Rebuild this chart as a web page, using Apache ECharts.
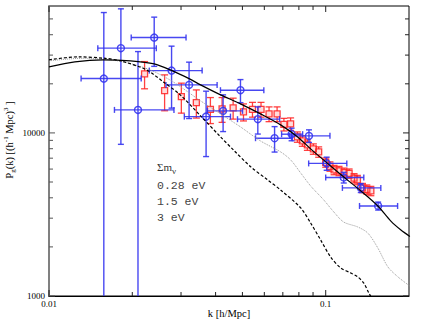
<!DOCTYPE html>
<html lang="en">
<head>
<meta charset="UTF-8">
<title>Galaxy power spectrum</title>
<script src="https://cdn.jsdelivr.net/npm/echarts@6/dist/echarts.min.js"></script>
<style>
  html, body { margin: 0; padding: 0; background: #fff; }
  #chart { width: 423px; height: 327px; }
</style>
</head>
<body>
<div id="chart"></div>
<script>
// axis ranges
var kMin = 0.01, kMax = 0.2;
var pMin = 1000, pMax = 60000;

// tick values (drawn inside on all four sides)
var kMajorTicks = [0.01, 0.1];
var kMinorTicks = [0.02, 0.03, 0.04, 0.05, 0.06, 0.07, 0.08, 0.09];
var pMajorTicks = [1000, 10000];
var pMinorTicks = [2000, 3000, 4000, 5000, 6000, 7000, 8000, 9000, 20000, 30000, 40000, 50000];

// model curves, sum of neutrino masses
var solidK = [0.0100, 0.0124, 0.0157, 0.0197, 0.0240, 0.0277, 0.0322, 0.0353, 0.0417, 0.0492, 0.0581, 0.0687, 0.0792, 0.0882, 0.1042, 0.1162, 0.1339, 0.1543, 0.1720, 0.1870, 0.2015];
var solidP = [25400, 27270, 28050, 27650, 26500, 24170, 21450, 19700, 17110, 15070, 13080, 11200, 9450, 7980, 6270, 5370, 4410, 3565, 2880, 2540, 2320];

var dottedK = [0.0100, 0.0130, 0.0160, 0.0189, 0.0232, 0.0281, 0.0353, 0.0417, 0.0492, 0.0581, 0.0687, 0.0747, 0.0812, 0.0882, 0.0984, 0.1069, 0.1162, 0.1306, 0.1420, 0.1543, 0.1677, 0.1824, 0.2015];
var dottedP = [27650, 28650, 28240, 27070, 24350, 20550, 15720, 13080, 10890, 8930, 7650, 6830, 5680, 4730, 3880, 3280, 2840, 2650, 2430, 1970, 1510, 1310, 1150];

var dashedK = [0.0100, 0.0127, 0.0160, 0.0184, 0.0225, 0.0259, 0.0298, 0.0353, 0.0417, 0.0464, 0.0535, 0.0617, 0.0687, 0.0812, 0.0882, 0.0959, 0.1042, 0.1133, 0.1232, 0.1306, 0.1373, 0.1431, 0.1468];
var dashedP = [28050, 29260, 28650, 27460, 24350, 20550, 17110, 12720, 9450, 7860, 6210, 5150, 4470, 3470, 2805, 2205, 1735, 1485, 1385, 1310, 1200, 1045, 970];

// blue data points: k, P, k range, P error
var blueK   = [0.01578, 0.01819, 0.02097, 0.0240, 0.02773, 0.03208, 0.03696, 0.04258, 0.0492, 0.05684, 0.06535, 0.07529, 0.0870, 0.1008, 0.1162, 0.1339, 0.1547];
var blueP   = [21540, 33080, 13840, 38430, 24110, 19700, 12590, 13650, 18280, 12140, 9280, 9820, 9590, 6500, 5330, 4600, 3565];
var blueErr = [33160, 24570, 17690, 12840, 9920, 7450, 5430, 3460, 2950, 2300, 1650, 870, 850, 600, 400, 290, 200];
var blueKlo = [0.01306, 0.01501, 0.01724, 0.01982, 0.02304, 0.02647, 0.03084, 0.03736, 0.04165, 0.0480, 0.05577, 0.06928, 0.07408, 0.08678, 0.1000, 0.1149, 0.1325];
var blueKhi = [0.02154, 0.02442, 0.02829, 0.03128, 0.03576, 0.04051, 0.04527, 0.05005, 0.05976, 0.06813, 0.07572, 0.08254, 0.1036, 0.1192, 0.1373, 0.1582, 0.1819];

// red data points: k, P, P error
var redK   = [0.02215, 0.02617, 0.03008, 0.03408, 0.03831, 0.04222, 0.04629, 0.05045, 0.05437, 0.05838, 0.06241, 0.06673, 0.07062, 0.07467, 0.0790, 0.08234, 0.08585, 0.09024, 0.09432, 0.1000, 0.1036, 0.1072, 0.1117, 0.1165, 0.1215, 0.1266, 0.1302, 0.1358, 0.1408, 0.1456];
var redP   = [23010, 18180, 16700, 15340, 13940, 14040, 14240, 13450, 13940, 13940, 13080, 13080, 11280, 11360, 9450, 8930, 8440, 7980, 7650, 6590, 6230, 5930, 5850, 5710, 5640, 5280, 5150, 4600, 4500, 4410];
var redErr = [4370, 4510, 3480, 3010, 2530, 2430, 2090, 1610, 1450, 1450, 1360, 1360, 1000, 1000, 690, 655, 620, 585, 560, 430, 410, 390, 385, 375, 370, 345, 340, 300, 295, 290];

var xTitle = 'k [h/Mpc]';
var legendTitle = 'Σm';
var legendNames = ['0.28 eV', '1.5 eV', '3 eV'];

var serif = 'Liberation Serif';
var mono = 'Liberation Mono';

function pairs(xs, ys) {
    return xs.map(function (x, i) { return [x, ys[i]]; });
}

var blueData = blueK.map(function (k, i) {
    return [k, blueP[i], blueKlo[i], blueKhi[i], blueP[i] - blueErr[i], blueP[i] + blueErr[i]];
});
var redData = redK.map(function (k, i) {
    return [k, redP[i], redP[i] - redErr[i], redP[i] + redErr[i]];
});

// tick data: [k, P, length, side flag]  flag 0 = k ticks, 1 = P ticks
var tickData = [];
kMajorTicks.forEach(function (v) { tickData.push([v, pMin, 6, 0]); });
kMinorTicks.forEach(function (v) { tickData.push([v, pMin, 4, 0]); });
pMajorTicks.forEach(function (v) { tickData.push([kMin, v, 6, 1]); });
pMinorTicks.forEach(function (v) { tickData.push([kMin, v, 4, 1]); });

function renderBlue(params, api) {
    var k = api.value(0), p = api.value(1);
    var c = api.coord([k, p]);
    var l = api.coord([api.value(2), p]);
    var r = api.coord([api.value(3), p]);
    var t = api.coord([k, api.value(5)]);
    var clipped = api.value(4) <= pMin;
    var b = api.coord([k, clipped ? pMin : api.value(4)]);
    var cap = 3;
    var st = { stroke: '#3434f0', lineWidth: 1.4, fill: null, opacity: 0.9 };
    var kids = [
        { type: 'line', shape: { x1: l[0], y1: c[1], x2: r[0], y2: c[1] }, style: st },
        { type: 'line', shape: { x1: l[0], y1: c[1] - cap, x2: l[0], y2: c[1] + cap }, style: st },
        { type: 'line', shape: { x1: r[0], y1: c[1] - cap, x2: r[0], y2: c[1] + cap }, style: st },
        { type: 'line', shape: { x1: c[0], y1: t[1], x2: c[0], y2: b[1] }, style: st },
        { type: 'line', shape: { x1: c[0] - cap, y1: t[1], x2: c[0] + cap, y2: t[1] }, style: st },
        { type: 'circle', shape: { cx: c[0], cy: c[1], r: 3.5 }, style: st }
    ];
    if (!clipped) {
        kids.push({ type: 'line', shape: { x1: c[0] - cap, y1: b[1], x2: c[0] + cap, y2: b[1] }, style: st });
    }
    return { type: 'group', children: kids };
}

function renderRed(params, api) {
    var k = api.value(0), p = api.value(1);
    var c = api.coord([k, p]);
    var b = api.coord([k, api.value(2)]);
    var t = api.coord([k, api.value(3)]);
    var cap = 3.5, h = 3;
    var st = { stroke: '#ff2020', lineWidth: 1.3, fill: null, opacity: 0.85 };
    return { type: 'group', children: [
        { type: 'line', shape: { x1: c[0], y1: t[1], x2: c[0], y2: c[1] - h }, style: st },
        { type: 'line', shape: { x1: c[0], y1: c[1] + h, x2: c[0], y2: b[1] }, style: st },
        { type: 'line', shape: { x1: c[0] - cap, y1: t[1], x2: c[0] + cap, y2: t[1] }, style: st },
        { type: 'line', shape: { x1: c[0] - cap, y1: b[1], x2: c[0] + cap, y2: b[1] }, style: st },
        { type: 'rect', shape: { x: c[0] - h, y: c[1] - h, width: 2 * h, height: 2 * h },
          style: { stroke: '#ff2020', lineWidth: 1.3, fill: 'rgba(255,90,90,0.25)', opacity: 0.85 } }
    ]};
}

function renderTicks(params, api) {
    var cs = params.coordSys;
    var len = api.value(2);
    var st = { stroke: '#222', lineWidth: 1 };
    if (api.value(3) === 0) {
        var px = api.coord([api.value(0), pMin])[0];
        return { type: 'group', children: [
            { type: 'line', shape: { x1: px, y1: cs.y + cs.height, x2: px, y2: cs.y + cs.height - len }, style: st },
            { type: 'line', shape: { x1: px, y1: cs.y, x2: px, y2: cs.y + len }, style: st }
        ]};
    }
    var py = api.coord([kMin, api.value(1)])[1];
    return { type: 'group', children: [
        { type: 'line', shape: { x1: cs.x, y1: py, x2: cs.x + len, y2: py }, style: { stroke: '#555', lineWidth: 1 } },
        { type: 'line', shape: { x1: cs.x + cs.width, y1: py, x2: cs.x + cs.width - len, y2: py }, style: st }
    ]};
}

function decadeLabel(v) {
    var e = Math.log10(v);
    return Math.abs(e - Math.round(e)) < 1e-6 ? String(+v.toPrecision(3)) : '';
}

var chart = echarts.init(document.getElementById('chart'), null, { renderer: 'svg' });

var option = {
    animation: false,
    backgroundColor: '#fff',
    grid: { left: 49, right: 14, top: 6, bottom: 31, show: true, borderColor: '#000', borderWidth: 1 },
    xAxis: {
        type: 'log', logBase: 10, min: kMin, max: kMax,
        axisLine: { show: true, onZero: false, lineStyle: { color: '#000', width: 1 } },
        axisTick: { show: false },
        splitLine: { show: false },
        axisLabel: { formatter: decadeLabel, fontFamily: serif, fontSize: 9, color: '#000', margin: 3 }
    },
    yAxis: {
        type: 'log', logBase: 10, min: pMin, max: pMax,
        axisLine: { show: true, onZero: false, lineStyle: { color: '#808080', width: 2 } },
        axisTick: { show: false },
        splitLine: { show: false },
        axisLabel: { formatter: decadeLabel, fontFamily: serif, fontSize: 9, color: '#000', margin: 4 }
    },
    graphic: [
        {
            type: 'text', x: 229, y: 313,
            style: { text: xTitle, fontFamily: serif, fontSize: 10.5, fontWeight: 'normal', fill: '#000',
                     align: 'center', verticalAlign: 'middle' }
        },
        {
            type: 'text', x: 9, y: 140, rotation: Math.PI / 2,
            style: {
                text: '{n|P}{sub|g}{n|(k) [(h}{sup|-1}{n| Mpc)}{sup|3}{n| ]}',
                align: 'center', verticalAlign: 'middle',
                rich: {
                    n: { fontFamily: serif, fontSize: 10.5, lineHeight: 14, fill: '#000' },
                    sub: { fontFamily: serif, fontSize: 7, verticalAlign: 'bottom', fill: '#000' },
                    sup: { fontFamily: serif, fontSize: 7, verticalAlign: 'top', fill: '#000' }
                }
            }
        },
        {
            type: 'text', x: 157, y: 167,
            style: {
                text: '{s|' + legendTitle + '}{sub|ν}',
                verticalAlign: 'middle',
                rich: {
                    s: { fontFamily: serif, fontSize: 11, lineHeight: 16, fill: '#333' },
                    sub: { fontFamily: serif, fontSize: 9, verticalAlign: 'bottom', fill: '#333' }
                }
            }
        },
        { type: 'text', x: 157, y: 185, style: { text: legendNames[0], fontFamily: mono, fontSize: 11.5, fill: '#444', verticalAlign: 'middle' } },
        { type: 'text', x: 157, y: 201, style: { text: legendNames[1], fontFamily: mono, fontSize: 11.5, fill: '#444', verticalAlign: 'middle' } },
        { type: 'text', x: 157, y: 217, style: { text: legendNames[2], fontFamily: mono, fontSize: 11.5, fill: '#444', verticalAlign: 'middle' } }
    ],
    series: [
        { name: 'red', type: 'custom', renderItem: renderRed, data: redData, encode: { x: 0, y: 1 }, clip: true, z: 2 },
        { name: 'blue', type: 'custom', renderItem: renderBlue, data: blueData, encode: { x: 0, y: 1 }, clip: true, z: 3 },
        { name: legendNames[1], type: 'line', data: pairs(dottedK, dottedP), smooth: 0.3, showSymbol: false, symbol: 'none',
          lineStyle: { color: '#999', width: 1, type: 'dotted' }, z: 4 },
        { name: legendNames[2], type: 'line', data: pairs(dashedK, dashedP), smooth: 0.3, showSymbol: false, symbol: 'none',
          lineStyle: { color: '#000', width: 1.2, type: [3, 2] }, z: 4 },
        { name: legendNames[0], type: 'line', data: pairs(solidK, solidP), smooth: 0.3, showSymbol: false, symbol: 'none',
          lineStyle: { color: '#000', width: 1.2 }, z: 4 },
        { name: 'ticks', type: 'custom', renderItem: renderTicks, data: tickData, encode: { x: 0, y: 1 }, z: 5, silent: true }
    ]
};

chart.setOption(option);
</script>
</body>
</html>
